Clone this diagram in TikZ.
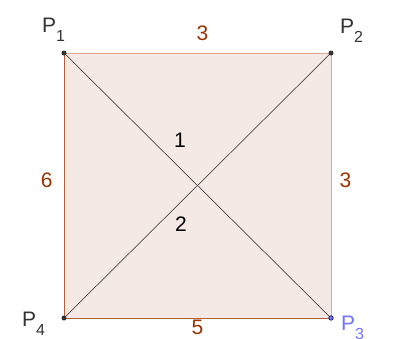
\documentclass[tikz,border=0pt]{standalone}
\usepackage{fontspec}
\setmainfont{Liberation Sans}
\usepackage{tikz}
\usetikzlibrary{positioning}
\definecolor{edgedark}{HTML}{B0603A}
\definecolor{edgelight}{HTML}{DDA98F}
\definecolor{softfill}{HTML}{F5E9E5}
\definecolor{sidebrown}{HTML}{993300}
\definecolor{ptblue}{HTML}{7373FF}
\definecolor{ptgray}{HTML}{333333}
\newcommand{\ptname}[1]{P\raisebox{-9.5pt}{\fontsize{16}{16}\selectfont #1}}
\tikzset{
  pt/.style={circle,fill=black!80,inner sep=0pt,minimum size=5pt},
  ptlabel/.style={font=\fontsize{21}{22}\selectfont,text=ptgray,inner sep=0pt,anchor=base west},
  sidelabel/.style={font=\fontsize{21}{22}\selectfont,text=sidebrown,inner sep=0pt},
  anglabel/.style={font=\fontsize{21}{22}\selectfont,inner sep=0pt},
  diag/.style={draw=black!70,line width=0.7pt}
}

\begin{document}
\begin{tikzpicture}[x=1pt,y=-1pt]
  \useasboundingbox (0,0) rectangle (394,338);
  \coordinate (c1) at (64,53);
  \coordinate (c2) at (331,53);
  \coordinate (c3) at (331,318);
  \coordinate (c4) at (64,318);

  \fill[softfill] (c1) -- (c2) -- (c3) -- (c4) -- cycle;

  \draw[edgelight,line width=1pt] (c1) -- node[sidelabel,above=12pt,xshift=5pt]{3} (c2);
  \draw[edgelight,line width=1pt] (c2) -- node[sidelabel,right=8pt,yshift=5pt]{3} (c3);
  \draw[edgedark,line width=1pt] (c3) -- node[sidelabel,below=2pt]{5} (c4);
  \draw[edgedark,line width=1pt] (c4) -- node[sidelabel,left=11pt,yshift=5pt]{6} (c1);

  \draw[diag] (c1) -- (c3);
  \draw[diag] (c2) -- (c4);

  \node[anglabel] (ang1) at (180,140) {1};
  \node[anglabel] (ang2) at (181,224) {2};

  \node[pt] (p1) at (c1) {};
  \node[pt] (p2) at (c2) {};
  \node[pt,fill=ptblue,draw=blue!40!black,line width=0.6pt,minimum size=4.5pt] (p3) at (c3) {};
  \node[pt] (p4) at (c4) {};

  \node[ptlabel] (l1) at (42,32) {\ptname{1}};
  \node[ptlabel] (l2) at (340,33) {\ptname{2}};
  \node[ptlabel,text=ptblue] (l3) at (341,330) {\ptname{3}};
  \node[ptlabel] (l4) at (22,326) {\ptname{4}};
\end{tikzpicture}
\end{document}
